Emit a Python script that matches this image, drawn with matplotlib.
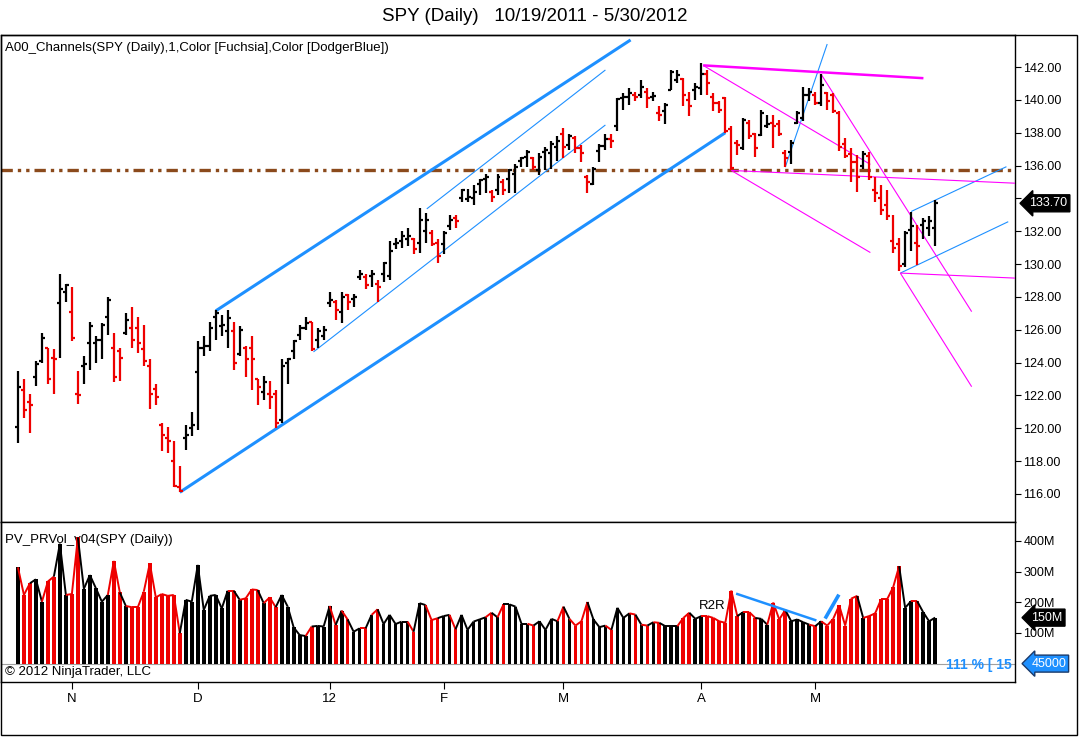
import matplotlib
matplotlib.use("Agg")
import matplotlib.pyplot as plt
import matplotlib.transforms as mtransforms
from matplotlib.collections import LineCollection
from matplotlib.patches import Rectangle
import numpy as np

plt.rcParams['font.family'] = ['Liberation Sans', 'DejaVu Sans']

# SPY daily bars 10/19/2011 - 5/30/2012
opens = [120.1, 122.3, 121.6, 123.1, 124.1, 124.9, 124.3, 127.6, 128.3, 127.1,
         122.1, 123.8, 125.2, 125.2, 125.4, 126.8, 124.9, 124.7, 125.8, 126.1,
         126.1, 124.8, 123.8, 122.4, 120.2, 119.4, 118.0, 116.4, 119.4, 120.0,
         123.45, 124.9, 125.0, 126.8, 126.2, 125.9, 125.9, 124.5, 124.9, 124.9,
         123.0, 122.2, 122.1, 122.1, 120.5, 124.0, 124.7, 125.7, 126.1, 126.5,
         125.4, 125.6, 127.6, 127.7, 127.1, 128.1, 127.9, 129.2, 129.2, 129.3,
         128.8, 129.4, 129.3, 131.2, 131.4, 131.5, 131.5, 131.3, 132.0, 131.9,
         131.3, 131.2, 132.3, 132.8, 134.0, 133.95, 134.0, 134.9, 135.2, 134.4,
         134.5, 135.0, 135.2, 135.5, 136.3, 136.55, 136.45, 135.7, 136.85, 136.75,
         137.15, 137.9, 137.25, 137.7, 137.05, 135.3, 134.9, 136.9, 137.2, 137.6,
         138.4, 140.1, 140.2, 140.3, 140.3, 140.5, 140.2, 139.2, 139.3, 140.6,
         141.2, 141.3, 140.0, 140.6, 140.7, 141.6, 140.2, 139.8, 140.1, 138.2,
         137.36, 137.06, 138.6, 137.9, 137.87, 138.4, 138.6, 138.5, 136.75, 136.85,
         138.6, 138.9, 140.3, 140.3, 139.8, 140.4, 140.3, 139.2, 137.3, 136.7,
         136.2, 136.0, 136.6, 134.5, 134.0, 133.6, 131.4, 131.2, 130.0, 132.1,
         131.3, 132.4, 132.2, 132.2]
highs = [123.5, 123.0, 122.1, 124.1, 125.8, 124.9, 124.8, 129.4, 128.8, 128.6,
         123.5, 124.4, 126.5, 125.6, 126.4, 128.0, 125.8, 124.9, 127.0, 127.4,
         126.8, 126.3, 124.2, 122.7, 120.3, 120.1, 119.2, 117.7, 120.2, 121.0,
         125.3, 125.6, 126.5, 127.2, 126.9, 127.2, 126.5, 126.2, 125.0, 125.6,
         123.0, 123.2, 122.9, 122.3, 124.2, 124.3, 125.4, 126.3, 126.8, 126.5,
         126.1, 126.2, 128.3, 127.8, 128.3, 128.2, 128.2, 129.65, 129.4, 129.65,
         129.0, 130.15, 131.4, 131.6, 132.0, 132.2, 131.6, 133.4, 133.1, 132.1,
         131.5, 132.0, 133.0, 133.0, 134.6, 134.6, 134.8, 135.2, 135.5, 134.5,
         135.5, 135.2, 135.8, 136.1, 136.55, 136.95, 136.55, 136.75, 137.15, 137.5,
         137.8, 138.3, 137.9, 137.8, 137.25, 135.4, 135.9, 137.3, 137.9, 137.9,
         140.1, 140.4, 140.75, 140.45, 141.2, 140.7, 140.5, 139.6, 139.8, 141.8,
         141.8, 141.35, 140.5, 141.0, 142.23, 141.8, 140.4, 139.9, 140.2, 138.4,
         137.56, 138.9, 138.8, 137.97, 139.4, 139.1, 139.1, 138.8, 136.95, 137.56,
         139.3, 140.8, 140.7, 140.5, 141.6, 140.5, 140.4, 139.3, 137.66, 137.05,
         136.65, 136.9, 136.85, 135.3, 134.8, 134.5, 133.0, 131.6, 132.0, 133.2,
         132.4, 132.8, 132.9, 133.9]
lows = [119.1, 120.6, 119.7, 122.6, 124.0, 122.7, 122.1, 124.3, 127.7, 125.3,
        121.5, 122.7, 123.55, 124.0, 124.2, 125.7, 122.8, 122.9, 125.7, 124.9,
        124.6, 123.8, 121.2, 121.4, 118.6, 118.5, 116.4, 116.1, 118.7, 119.5,
        119.9, 124.4, 124.7, 125.4, 125.6, 124.9, 123.55, 124.4, 123.1, 122.3,
        121.4, 121.7, 121.2, 120.0, 120.3, 122.7, 124.2, 125.4, 126.0, 124.7,
        124.9, 125.4, 127.4, 126.6, 126.4, 127.2, 127.4, 129.0, 128.5, 128.6,
        127.7, 128.9, 129.0, 130.9, 131.0, 131.1, 130.6, 130.7, 131.3, 131.1,
        130.05, 130.6, 132.1, 132.2, 133.8, 133.8, 133.6, 134.2, 134.3, 133.8,
        134.2, 134.2, 134.3, 134.3, 135.9, 135.9, 135.7, 135.4, 135.7, 135.8,
        136.3, 136.45, 136.95, 136.75, 136.2, 134.3, 134.8, 136.2, 136.95, 137.05,
        138.1, 139.4, 139.7, 139.9, 140.1, 139.5, 139.9, 138.7, 138.5, 140.6,
        141.0, 139.6, 139.0, 140.0, 140.3, 140.3, 139.3, 139.2, 138.0, 135.74,
        136.65, 136.95, 137.6, 136.55, 137.77, 138.3, 137.06, 137.8, 135.9, 136.1,
        138.5, 138.7, 139.9, 139.7, 139.6, 139.4, 139.2, 136.9, 136.44, 135.0,
        134.4, 135.8, 135.1, 133.8, 133.0, 132.7, 130.7, 129.6, 129.85, 130.8,
        129.95, 131.5, 131.7, 131.1]
closes = [122.5, 121.1, 121.4, 123.9, 125.5, 123.0, 124.2, 128.5, 128.7, 125.5,
          122.0, 123.9, 126.2, 125.4, 126.3, 127.8, 123.1, 124.3, 126.6, 125.4,
          125.2, 124.1, 122.1, 121.9, 119.6, 119.2, 116.5, 116.2, 119.6, 120.2,
          124.9, 125.0, 126.1, 127.0, 126.3, 126.7, 123.95, 126.0, 124.2, 124.2,
          122.5, 122.8, 121.9, 120.3, 123.8, 124.2, 125.3, 126.1, 126.4, 124.8,
          125.9, 126.0, 127.8, 127.2, 128.0, 127.7, 128.0, 129.4, 128.7, 129.4,
          128.6, 130.05, 130.8, 131.3, 131.7, 131.7, 130.9, 132.7, 132.7, 131.2,
          130.5, 131.9, 132.7, 132.6, 134.5, 134.1, 134.4, 135.1, 135.3, 134.1,
          135.3, 134.5, 135.7, 135.9, 136.45, 136.85, 135.9, 136.55, 136.95, 137.3,
          137.5, 137.15, 137.8, 137.05, 136.75, 135.0, 135.8, 137.2, 137.6, 137.5,
          140.05, 140.2, 140.4, 140.2, 140.8, 140.1, 140.25, 139.1, 139.7, 141.7,
          141.5, 140.3, 139.6, 140.8, 141.6, 141.0, 139.8, 139.4, 138.1, 135.84,
          137.26, 138.8, 137.8, 137.06, 139.2, 138.5, 138.4, 137.9, 136.45, 137.36,
          139.2, 140.3, 140.5, 139.8, 140.9, 139.9, 139.3, 137.1, 136.6, 136.2,
          135.3, 136.7, 135.3, 134.3, 133.3, 132.9, 131.0, 129.9, 131.9, 132.3,
          131.1, 132.6, 132.6, 133.7]

# volume in millions
volume_m = [314, 224, 262, 275, 202, 268, 284, 391, 224, 227,
            412, 244, 289, 246, 202, 224, 335, 232, 188, 184,
            184, 235, 327, 216, 227, 221, 224, 99, 208, 202,
            322, 175, 221, 224, 180, 238, 238, 208, 213, 242,
            240, 197, 216, 184, 224, 186, 118, 93, 90, 121,
            123, 121, 188, 126, 173, 144, 104, 115, 115, 159,
            177, 129, 159, 129, 137, 137, 104, 197, 191, 142,
            148, 155, 159, 112, 159, 110, 137, 144, 151, 166,
            151, 193, 193, 186, 130, 130, 124, 138, 110, 146,
            138, 186, 146, 124, 138, 201, 144, 119, 124, 110,
            182, 149, 164, 160, 127, 124, 135, 133, 122, 122,
            122, 149, 166, 146, 155, 155, 149, 138, 133, 238,
            155, 168, 168, 149, 146, 127, 199, 144, 175, 138,
            144, 135, 127, 122, 138, 124, 146, 190, 124, 212,
            221, 149, 155, 164, 210, 210, 249, 318, 182, 204,
            204, 168, 138, 150]

month_labels = ["N", "D", "12", "F", "M", "A", "M"]
month_bars = [9, 30, 52, 71, 91, 114, 133]

# drawn channel objects, (bar, price) end points
blue_thick = [[(33.0, 127.15), (102.2, 143.65)],
              [(27.0, 116.1), (118.0, 138.0)]]
blue_thin = [[(49.3, 124.65), (98.0, 138.47)],
             [(68.2, 133.36), (98.0, 141.82)],
             [(128.0, 135.9), (135.0, 143.4)],
             [(147.2, 129.45), (165.2, 132.58)],
             [(149.0, 133.2), (164.9, 135.93)]]
fuchsia_thick = [[(114.3, 142.1), (151.05, 141.32)]]
fuchsia_thin = [[(114.3, 142.1), (142.2, 136.07)],
                [(119.0, 135.7), (142.2, 130.70)],
                [(119.0, 135.7), (166.6, 134.92)],
                [(147.2, 129.45), (166.6, 129.14)],
                [(134.0, 141.55), (159.1, 127.10)],
                [(147.2, 129.45), (159.1, 122.53)]]
level_price = 135.75
vol_trend = [(120.0, 227), (133.0, 142)]
vol_burst = [(134.8, 152), (136.8, 220)]

RED = "#ee0000"
BLACK = "#000000"
BLUE = "#1e90ff"
FUCHSIA = "#ff00ff"

n = len(closes)
idx = np.arange(n)
up = np.array(closes) >= np.array(opens)
bar_colors = [BLACK if u else RED for u in up]

fig = plt.figure(figsize=(10.79, 7.37), dpi=100)
ax = fig.add_axes([0.0009, 0.29172, 0.9398, 0.66079])
axv = fig.add_axes([0.0009, 0.07463, 0.9398, 0.21710], sharex=ax)

# price panel
segs = []
cols = []
for i in range(n):
    segs.append([(i, lows[i]), (i, highs[i])])
    segs.append([(i - 0.5, opens[i]), (i, opens[i])])
    segs.append([(i, closes[i]), (i + 0.5, closes[i])])
    cols += [bar_colors[i]] * 3
ax.add_collection(LineCollection(segs, colors=cols, linewidths=1.6,
                                 capstyle='butt', zorder=4))

ax.axhline(level_price, color="#8b4a1c", lw=2.4, zorder=2,
           linestyle=(0, (3.4, 1.5, 1.0, 1.5, 1.0, 1.5)))

ax.add_collection(LineCollection(blue_thick, colors=BLUE, linewidths=2.2, zorder=3))
ax.add_collection(LineCollection(blue_thin, colors=BLUE, linewidths=0.8, zorder=3))
ax.add_collection(LineCollection(fuchsia_thick, colors=FUCHSIA, linewidths=1.8, zorder=3))
ax.add_collection(LineCollection(fuchsia_thin, colors=FUCHSIA, linewidths=0.8, zorder=3))

ax.set_xlim(-2.83, 166.33)
ax.set_ylim(114.29, 143.95)
ax.yaxis.tick_right()
price_ticks = np.arange(116, 143, 2)
ax.set_yticks(price_ticks)
# the tick label under the last-price marker is hidden, as in the platform
ax.set_yticklabels(["" if abs(v - closes[-1]) < 0.6 else f"{v:.2f}" for v in price_ticks])
ax.tick_params(axis='y', direction='out', length=4, pad=2, labelsize=9)
ax.tick_params(axis='x', bottom=False, labelbottom=False)
for s in ax.spines.values():
    s.set_linewidth(1.0)

ax.text(0.004, 0.985, "A00_Channels(SPY (Daily),1,Color [Fuchsia],Color [DodgerBlue])",
        transform=ax.transAxes, ha='left', va='top', fontsize=9.5, zorder=1)

tr = mtransforms.blended_transform_factory(ax.transAxes, ax.transData)
ax.text(1.014, closes[-1], f"{closes[-1]:.2f}", transform=tr, ha='left', va='center',
        color='white', fontsize=9, clip_on=False,
        bbox=dict(boxstyle="larrow,pad=0.2", fc='black', ec='black'))

# volume panel
axv.axhline(0, color='#a0a0a0', lw=0.8, zorder=1)
axv.bar(idx, volume_m, width=0.62, color=bar_colors, zorder=3)
vsegs = [[(i - 1, volume_m[i - 1]), (i, volume_m[i])] for i in range(1, n)]
axv.add_collection(LineCollection(vsegs, colors=bar_colors[1:], linewidths=1.4, zorder=4))
axv.plot(*zip(*vol_trend), color=BLUE, lw=1.8, zorder=5)
axv.plot(*zip(*vol_burst), color=BLUE, lw=2.6, zorder=5)
axv.text(115.8, 188, "R2R", ha='center', va='center', fontsize=9.5, zorder=5)

axv.set_ylim(-60, 462)
axv.yaxis.tick_right()
axv.set_yticks([100, 200, 300, 400])
axv.set_yticklabels(["100M", "200M", "300M", "400M"])
axv.tick_params(axis='y', direction='out', length=4, pad=2, labelsize=9)
axv.set_xticks(month_bars)
axv.set_xticklabels(month_labels)
axv.tick_params(axis='x', direction='out', length=5, pad=3, labelsize=9.5)
for s in axv.spines.values():
    s.set_linewidth(1.0)

axv.text(0.004, 0.89, "PV_PRVol_v04(SPY (Daily))", transform=axv.transAxes,
         ha='left', va='center', fontsize=9.5, zorder=2)
axv.text(0.004, 0.06, "\u00a9 2012 NinjaTrader, LLC", transform=axv.transAxes,
         ha='left', va='center', fontsize=9.5, zorder=2)
axv.text(154.8, -4, "111 % [ 15", ha='left', va='center', fontsize=10,
         fontweight='bold', color=BLUE, clip_on=True, zorder=5)

trv = mtransforms.blended_transform_factory(axv.transAxes, axv.transData)
axv.text(1.016, volume_m[-1], f"{volume_m[-1]}M", transform=trv, ha='left', va='center',
         color='white', fontsize=9, clip_on=False,
         bbox=dict(boxstyle="larrow,pad=0.2", fc='black', ec='black'))
axv.text(1.016, 0, "45000", transform=trv, ha='left', va='center',
         color='white', fontsize=9, clip_on=False,
         bbox=dict(boxstyle="larrow,pad=0.2", fc=BLUE, ec='#1a3a6a'))

fig.text(0.496, 0.978, "SPY (Daily)   10/19/2011 - 5/30/2012", ha='center', va='center',
         fontsize=13.5)
fig.add_artist(Rectangle((0.0009, 0.0027), 0.9975, 0.9498, transform=fig.transFigure,
                         fill=False, ec='black', lw=1.0))

fig.savefig("out.png", dpi=100)
